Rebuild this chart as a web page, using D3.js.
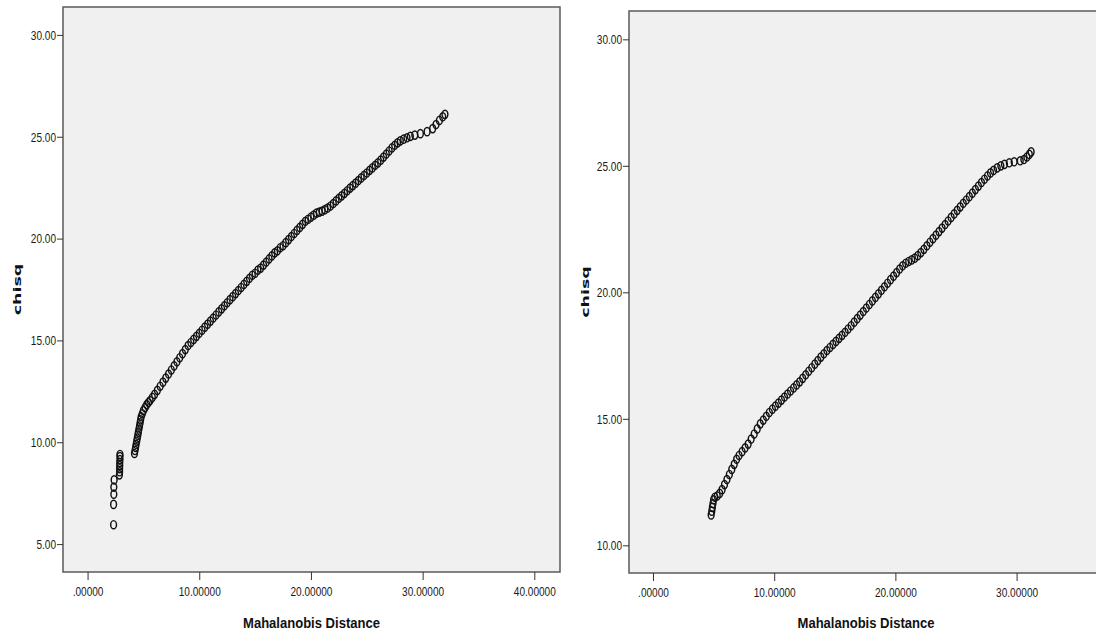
<!DOCTYPE html>
<html>
<head>
<meta charset="utf-8">
<script src="https://cdn.jsdelivr.net/npm/d3@7"></script>
<style>
  body { margin: 0; background: #fff; }
  svg { display: block; }
</style>
</head>
<body>
<div id="chart"></div>
<script>
// Left panel: [Mahalanobis distance, chisq]
const leftPoints = [
  [2.33, 5.95], [2.33, 6.95], [2.35, 7.45], [2.35, 7.8], [2.38, 8.15],
  [2.85, 8.4], [2.87, 8.55], [2.87, 8.7], [2.88, 8.85], [2.88, 9.0], [2.9, 9.15], [2.9, 9.3], [2.9, 9.4],
  [4.2, 9.45], [4.25, 9.6], [4.3, 9.75], [4.35, 9.9], [4.4, 10.05], [4.45, 10.2], [4.5, 10.35],
  [4.55, 10.5], [4.6, 10.65], [4.65, 10.8], [4.7, 10.95], [4.75, 11.1], [4.8, 11.25], [4.9, 11.4],
  [5.0, 11.55], [5.15, 11.7], [5.3, 11.85], [5.45, 11.95], [5.6, 12.05], [5.8, 12.2], [6.0, 12.35],
  [6.25, 12.55], [6.5, 12.75], [6.75, 12.95], [7.0, 13.15], [7.25, 13.35], [7.5, 13.55], [7.75, 13.75],
  [8.0, 13.95], [8.25, 14.15], [8.5, 14.35], [8.75, 14.55], [9.0, 14.75], [9.25, 14.9], [9.5, 15.05],
  [9.75, 15.2], [10.0, 15.35], [10.25, 15.5], [10.5, 15.65], [10.75, 15.8], [11.0, 15.95], [11.25, 16.1],
  [11.5, 16.25], [11.75, 16.4], [12.0, 16.55], [12.25, 16.7], [12.5, 16.85], [12.75, 17.0], [13.0, 17.15],
  [13.25, 17.3], [13.5, 17.45], [13.75, 17.6], [14.0, 17.75], [14.25, 17.9], [14.5, 18.05], [14.75, 18.2],
  [15.0, 18.3], [15.25, 18.45], [15.5, 18.55], [15.75, 18.7], [16.0, 18.85], [16.25, 19.0], [16.5, 19.15],
  [16.75, 19.3], [17.0, 19.4], [17.25, 19.55], [17.5, 19.65], [17.75, 19.8], [18.0, 19.95], [18.25, 20.1],
  [18.5, 20.25], [18.75, 20.4], [19.0, 20.55], [19.25, 20.7], [19.5, 20.85], [19.75, 20.95], [20.0, 21.05],
  [20.25, 21.15], [20.5, 21.25], [20.75, 21.3], [21.0, 21.35], [21.25, 21.42], [21.5, 21.5], [21.75, 21.6],
  [22.0, 21.72], [22.25, 21.85], [22.5, 21.98], [22.75, 22.1], [23.0, 22.22], [23.25, 22.35], [23.5, 22.48],
  [23.75, 22.6], [24.0, 22.72], [24.25, 22.85], [24.5, 22.98], [24.75, 23.1], [25.0, 23.22], [25.25, 23.35],
  [25.5, 23.47], [25.75, 23.6], [26.0, 23.72], [26.25, 23.85], [26.5, 24.0], [26.75, 24.15], [27.0, 24.3],
  [27.25, 24.45], [27.5, 24.58], [27.75, 24.7], [28.0, 24.8], [28.3, 24.88], [28.6, 24.95], [28.9, 25.02],
  [29.3, 25.08], [29.8, 25.15], [30.4, 25.25], [30.9, 25.4], [31.2, 25.6], [31.5, 25.8], [31.8, 25.98], [32.0, 26.1]
];

// Right panel: [Mahalanobis distance, chisq]
const rightPoints = [
  [4.8, 11.2], [4.85, 11.35], [4.9, 11.5], [4.95, 11.65], [5.0, 11.8], [5.1, 11.9], [5.3, 11.95],
  [5.5, 12.05], [5.7, 12.2], [5.9, 12.4], [6.1, 12.6], [6.3, 12.8], [6.5, 13.0], [6.7, 13.2], [6.9, 13.4],
  [7.1, 13.55], [7.35, 13.7], [7.6, 13.85], [7.85, 14.0], [8.1, 14.2], [8.35, 14.4], [8.6, 14.6],
  [8.85, 14.8], [9.1, 14.95], [9.35, 15.1], [9.6, 15.25], [9.85, 15.38], [10.1, 15.5], [10.35, 15.62],
  [10.6, 15.74], [10.85, 15.86], [11.1, 15.98], [11.35, 16.1], [11.6, 16.22], [11.85, 16.34], [12.1, 16.46],
  [12.35, 16.6], [12.6, 16.74], [12.85, 16.88], [13.1, 17.02], [13.35, 17.16], [13.6, 17.3], [13.85, 17.44],
  [14.1, 17.57], [14.35, 17.7], [14.6, 17.82], [14.85, 17.94], [15.1, 18.06], [15.35, 18.18], [15.6, 18.3],
  [15.85, 18.42], [16.1, 18.55], [16.35, 18.68], [16.6, 18.82], [16.85, 18.96], [17.1, 19.1], [17.35, 19.24],
  [17.6, 19.38], [17.85, 19.52], [18.1, 19.66], [18.35, 19.8], [18.6, 19.94], [18.85, 20.08], [19.1, 20.22],
  [19.35, 20.36], [19.6, 20.5], [19.85, 20.64], [20.1, 20.78], [20.35, 20.92], [20.6, 21.05], [20.85, 21.15],
  [21.1, 21.22], [21.35, 21.28], [21.6, 21.35], [21.85, 21.45], [22.1, 21.57], [22.35, 21.7], [22.6, 21.84],
  [22.85, 21.98], [23.1, 22.12], [23.35, 22.26], [23.6, 22.4], [23.85, 22.54], [24.1, 22.68], [24.35, 22.82],
  [24.6, 22.96], [24.85, 23.1], [25.1, 23.24], [25.35, 23.38], [25.6, 23.52], [25.85, 23.65], [26.1, 23.78],
  [26.35, 23.92], [26.6, 24.06], [26.85, 24.2], [27.1, 24.34], [27.35, 24.47], [27.6, 24.6], [27.85, 24.72],
  [28.1, 24.82], [28.4, 24.92], [28.7, 25.0], [29.0, 25.06], [29.4, 25.12], [29.8, 25.16], [30.3, 25.2],
  [30.6, 25.25], [30.85, 25.35], [31.05, 25.45], [31.2, 25.55]
];

// Ticks
const leftXTicks = [0, 10, 20, 30, 40];
const leftXLabels = [".00000", "10.00000", "20.00000", "30.00000", "40.00000"];
const leftYTicks = [5, 10, 15, 20, 25, 30];
const leftYLabels = ["5.00", "10.00", "15.00", "20.00", "25.00", "30.00"];
const rightXTicks = [0, 10, 20, 30];
const rightXLabels = [".00000", "10.00000", "20.00000", "30.00000"];
const rightYTicks = [10, 15, 20, 25, 30];
const rightYLabels = ["10.00", "15.00", "20.00", "25.00", "30.00"];

const xTitle = "Mahalanobis Distance";
const yTitle = "chisq";

const W = 1096, H = 633;
const svg = d3.select("#chart").append("svg")
    .attr("width", W)
    .attr("height", H);

function drawPanel(opt) {
    const x = d3.scaleLinear().domain(opt.xDomain).range([opt.left, opt.right]);
    const y = d3.scaleLinear().domain(opt.yDomain).range([opt.bottom, opt.top]);
    const g = svg.append("g");

    // plot background + frame
    g.append("rect")
        .attr("x", opt.left)
        .attr("y", opt.top)
        .attr("width", opt.right - opt.left)
        .attr("height", opt.bottom - opt.top)
        .attr("fill", "#f0f0f0")
        .attr("stroke", "#5a5a5a")
        .attr("stroke-width", 1.5);

    // x axis
    const xAxis = d3.axisBottom(x)
        .tickValues(opt.xTicks)
        .tickFormat((d, i) => opt.xLabels[i])
        .tickSize(8)
        .tickSizeOuter(0);
    const xg = g.append("g")
        .attr("transform", `translate(0, ${opt.bottom})`)
        .call(xAxis);
    xg.select(".domain").remove();
    xg.selectAll(".tick line").attr("stroke", "#333");
    xg.selectAll(".tick text")
        .attr("y", 0)
        .attr("dy", 0)
        .attr("transform", "translate(0, 23.5) scale(0.82, 1)")
        .style("font-family", "'Liberation Sans', Arial, sans-serif")
        .style("font-size", "12.3px")
        .attr("fill", "#1a1a1a");

    // y axis
    const yAxis = d3.axisLeft(y)
        .tickValues(opt.yTicks)
        .tickFormat((d, i) => opt.yLabels[i])
        .tickSize(6)
        .tickSizeOuter(0);
    const yg = g.append("g")
        .attr("transform", `translate(${opt.left}, 0)`)
        .call(yAxis);
    yg.select(".domain").remove();
    yg.selectAll(".tick line").attr("stroke", "#333");
    yg.selectAll(".tick text")
        .attr("x", 0)
        .attr("dy", 0)
        .attr("transform", "translate(-7, 4.4) scale(0.82, 1)")
        .style("font-family", "'Liberation Sans', Arial, sans-serif")
        .style("font-size", "12.3px")
        .attr("fill", "#1a1a1a");

    // points (hollow, slightly squeezed like the source image)
    g.append("g").selectAll("ellipse")
        .data(opt.points)
        .enter()
        .append("ellipse")
        .attr("cx", d => x(d[0]))
        .attr("cy", d => y(d[1]))
        .attr("rx", 2.9)
        .attr("ry", 4.1)
        .attr("fill", "none")
        .attr("stroke", "#111")
        .attr("stroke-width", 1.45);

    // axis titles
    g.append("text")
        .attr("transform", `translate(${(opt.left + opt.right) / 2}, 628) scale(0.9, 1)`)
        .style("text-anchor", "middle")
        .style("font-family", "'Liberation Sans', Arial, sans-serif")
        .style("font-size", "14.5px")
        .style("font-weight", "bold")
        .attr("fill", "#111")
        .text(xTitle);

    g.append("text")
        .attr("transform", `translate(${opt.yTitleX}, ${(opt.top + opt.bottom) / 2}) scale(0.64, 1) rotate(-90)`)
        .style("text-anchor", "middle")
        .style("font-family", "'DejaVu Sans', sans-serif")
        .style("font-size", "17.5px")
        .style("font-weight", "bold")
        .attr("fill", "#111")
        .text(yTitle);
}

drawPanel({
    points: leftPoints,
    left: 63, right: 560, top: 7, bottom: 572,
    xDomain: [-2.2, 42.3], yDomain: [3.63, 31.37],
    xTicks: leftXTicks, xLabels: leftXLabels,
    yTicks: leftYTicks, yLabels: leftYLabels,
    yTitleX: 21
});

drawPanel({
    points: rightPoints,
    left: 629, right: 1103, top: 11, bottom: 573,
    xDomain: [-1.98, 37.13], yDomain: [8.905, 31.12],
    xTicks: rightXTicks, xLabels: rightXLabels,
    yTicks: rightYTicks, yLabels: rightYLabels,
    yTitleX: 589
});
</script>
</body>
</html>
